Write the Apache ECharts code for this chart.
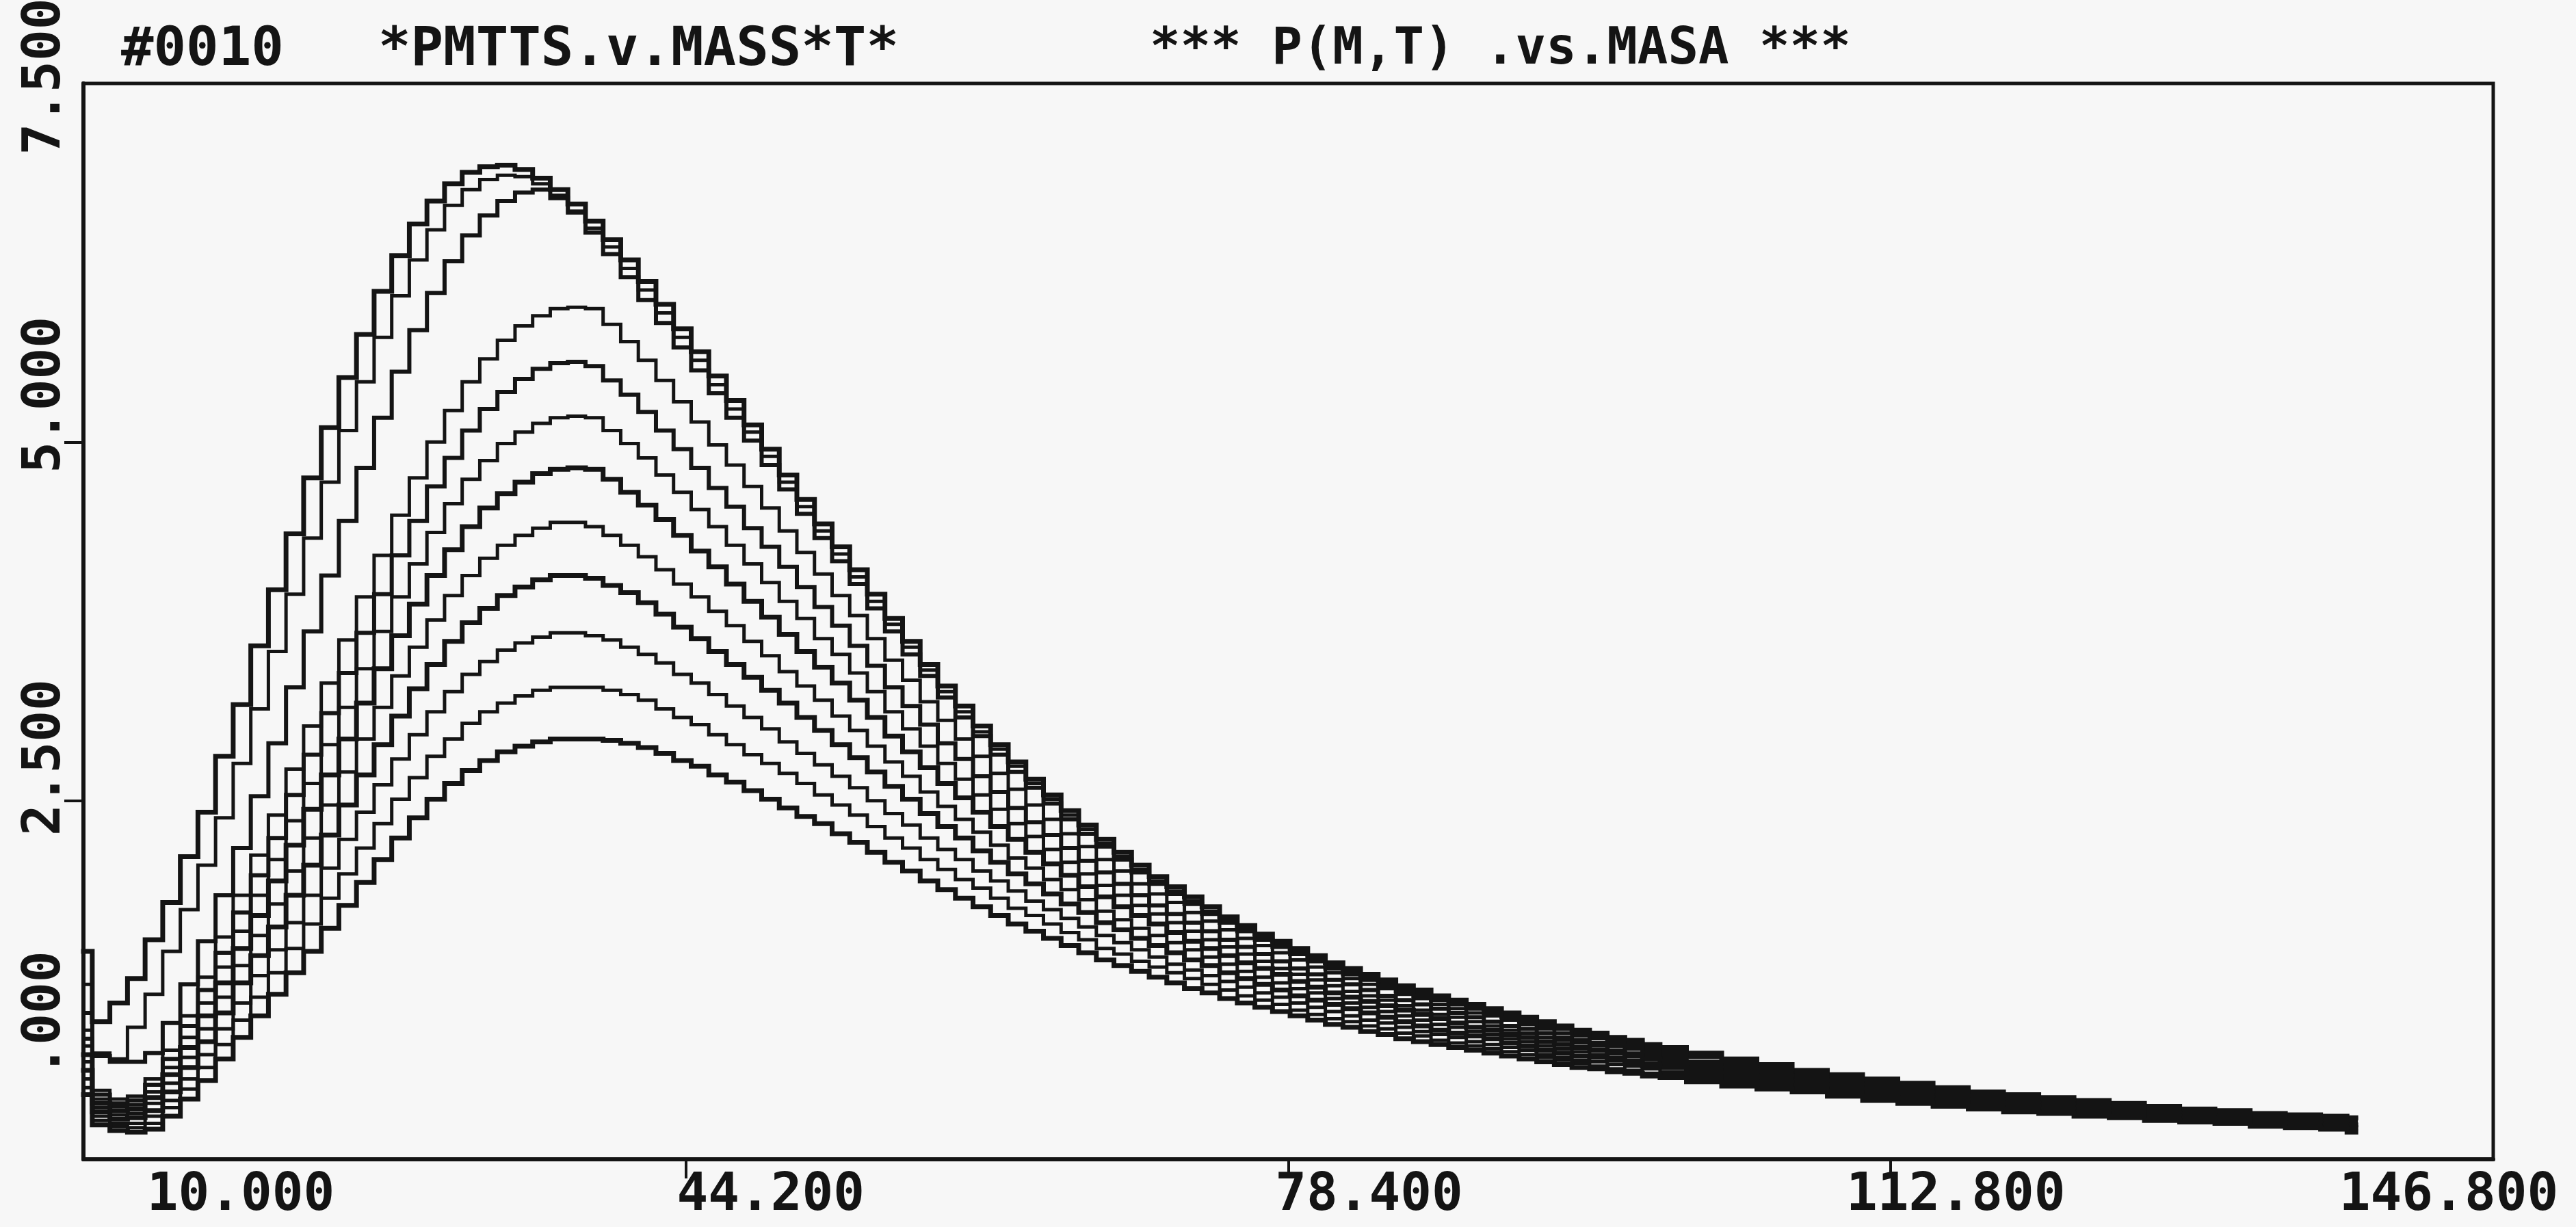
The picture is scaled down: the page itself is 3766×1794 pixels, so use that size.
<!DOCTYPE html>
<html>
<head>
<meta charset="utf-8">
<title>P(M,T) .vs.MASA</title>
<script src="https://cdn.jsdelivr.net/npm/echarts@6/dist/echarts.min.js"></script>
<style>
  html, body { margin: 0; padding: 0; background: #f7f7f7; }
  #chart { width: 3766px; height: 1794px; }
</style>
</head>
<body>
<div id="chart"></div>
<script>
// texts and ticks as printed on the plot
const runTag = "#0010";
const titleLeft = "*PMTTS.v.MASS*T*";
const titleRight = "*** P(M,T) .vs.MASA ***";
const xTickValues = [10, 44.2, 78.4, 112.6, 146.8];
const xTickLabels = ["10.000", "44.200", "78.400", "112.800", "146.800"];
const xTickMarks = [44.2, 78.4, 112.6];
const yTickValues = [0, 2.5, 5, 7.5];
const yTickLabels = [".000", "2.500", "5.000", "7.500"];
const yTickMarks = [2.5, 5];

// mass bins: unit bins up to 100, then every 2
const mass = [
  10, 11, 12, 13, 14, 15, 16, 17, 18, 19,
  20, 21, 22, 23, 24, 25, 26, 27, 28, 29,
  30, 31, 32, 33, 34, 35, 36, 37, 38, 39,
  40, 41, 42, 43, 44, 45, 46, 47, 48, 49,
  50, 51, 52, 53, 54, 55, 56, 57, 58, 59,
  60, 61, 62, 63, 64, 65, 66, 67, 68, 69,
  70, 71, 72, 73, 74, 75, 76, 77, 78, 79,
  80, 81, 82, 83, 84, 85, 86, 87, 88, 89,
  90, 91, 92, 93, 94, 95, 96, 97, 98, 99,
  100,
  102, 104, 106, 108, 110, 112, 114, 116, 118, 120,
  122, 124, 126, 128, 130, 132, 134, 136, 138,
  139
];

// P(M,T), one array per temperature, highest peak first
const p1 = [
  1.45, 0.96, 1.09, 1.26, 1.53, 1.79, 2.11, 2.42, 2.81, 3.17,
  3.58, 3.97, 4.36, 4.75, 5.10, 5.45, 5.75, 6.05, 6.30, 6.52,
  6.68, 6.80, 6.88, 6.92, 6.93, 6.90, 6.84, 6.76, 6.66, 6.54,
  6.41, 6.27, 6.12, 5.96, 5.79, 5.63, 5.46, 5.29, 5.12, 4.95,
  4.77, 4.60, 4.43, 4.27, 4.11, 3.94, 3.77, 3.61, 3.45, 3.30,
  3.16, 3.02, 2.89, 2.77, 2.65, 2.54, 2.43, 2.33, 2.23, 2.14,
  2.05, 1.97, 1.90, 1.83, 1.76, 1.69, 1.63, 1.57, 1.52, 1.47,
  1.42, 1.37, 1.33, 1.29, 1.25, 1.21, 1.18, 1.14, 1.11, 1.08,
  1.05, 1.02, 0.99, 0.96, 0.93, 0.90, 0.88, 0.85, 0.83, 0.80,
  0.78,
  0.74, 0.70, 0.66, 0.62, 0.59, 0.56, 0.53, 0.50, 0.47, 0.45,
  0.43, 0.41, 0.39, 0.37, 0.35, 0.34, 0.32, 0.31, 0.30,
  0.29
];
const p2 = [
  1.22, 0.74, 0.70, 0.92, 1.15, 1.45, 1.74, 2.05, 2.38, 2.76,
  3.14, 3.54, 3.94, 4.33, 4.72, 5.08, 5.42, 5.73, 6.02, 6.27,
  6.48, 6.65, 6.76, 6.83, 6.86, 6.85, 6.80, 6.72, 6.61, 6.49,
  6.36, 6.21, 6.06, 5.90, 5.73, 5.57, 5.40, 5.23, 5.07, 4.90,
  4.72, 4.55, 4.38, 4.22, 4.06, 3.89, 3.73, 3.57, 3.41, 3.26,
  3.12, 2.98, 2.86, 2.74, 2.62, 2.51, 2.40, 2.30, 2.20, 2.11,
  2.02, 1.94, 1.87, 1.80, 1.73, 1.67, 1.61, 1.55, 1.50, 1.45,
  1.40, 1.35, 1.31, 1.27, 1.23, 1.19, 1.16, 1.12, 1.09, 1.06,
  1.03, 1.00, 0.97, 0.94, 0.92, 0.89, 0.87, 0.84, 0.82, 0.79,
  0.77,
  0.73, 0.69, 0.65, 0.61, 0.58, 0.55, 0.52, 0.49, 0.47, 0.44,
  0.42, 0.40, 0.38, 0.37, 0.35, 0.33, 0.32, 0.31, 0.29,
  0.28
];
const p3 = [
  1.02, 0.72, 0.68, 0.68, 0.74, 0.95, 1.22, 1.52, 1.84, 2.17,
  2.53, 2.90, 3.29, 3.68, 4.07, 4.45, 4.82, 5.17, 5.49, 5.78,
  6.04, 6.26, 6.44, 6.58, 6.68, 6.74, 6.76, 6.70, 6.60, 6.46,
  6.31, 6.15, 5.99, 5.83, 5.66, 5.50, 5.34, 5.17, 5.01, 4.84,
  4.67, 4.50, 4.33, 4.17, 4.01, 3.84, 3.68, 3.52, 3.37, 3.22,
  3.08, 2.95, 2.82, 2.70, 2.59, 2.48, 2.37, 2.27, 2.18, 2.09,
  2.00, 1.92, 1.85, 1.78, 1.71, 1.65, 1.59, 1.53, 1.48, 1.43,
  1.38, 1.33, 1.29, 1.25, 1.21, 1.17, 1.14, 1.11, 1.08, 1.05,
  1.02, 0.99, 0.96, 0.93, 0.91, 0.88, 0.86, 0.83, 0.81, 0.78,
  0.76,
  0.72, 0.68, 0.64, 0.61, 0.57, 0.54, 0.51, 0.49, 0.46, 0.44,
  0.42, 0.40, 0.38, 0.36, 0.34, 0.33, 0.31, 0.30, 0.29,
  0.28
];
const p4 = [
  0.90, 0.48, 0.42, 0.44, 0.56, 0.76, 1.00, 1.27, 1.55, 1.84,
  2.12, 2.40, 2.72, 3.02, 3.32, 3.62, 3.92, 4.21, 4.49, 4.75,
  5.00, 5.22, 5.42, 5.58, 5.71, 5.81, 5.88, 5.93, 5.94, 5.93,
  5.82, 5.70, 5.57, 5.43, 5.28, 5.14, 4.98, 4.84, 4.69, 4.54,
  4.38, 4.23, 4.08, 3.93, 3.79, 3.63, 3.48, 3.34, 3.19, 3.06,
  2.93, 2.81, 2.69, 2.58, 2.47, 2.37, 2.27, 2.18, 2.09, 2.01,
  1.92, 1.85, 1.79, 1.72, 1.66, 1.60, 1.54, 1.49, 1.44, 1.39,
  1.34, 1.30, 1.26, 1.22, 1.19, 1.15, 1.12, 1.08, 1.05, 1.02,
  1.00, 0.97, 0.94, 0.91, 0.88, 0.86, 0.84, 0.81, 0.79, 0.76,
  0.74,
  0.71, 0.67, 0.63, 0.60, 0.57, 0.53, 0.51, 0.48, 0.45, 0.43,
  0.41, 0.39, 0.37, 0.35, 0.33, 0.32, 0.30, 0.29, 0.28,
  0.27
];
const p5 = [
  0.84, 0.45, 0.39, 0.41, 0.52, 0.70, 0.93, 1.18, 1.44, 1.72,
  1.98, 2.24, 2.54, 2.82, 3.11, 3.39, 3.67, 3.94, 4.21, 4.45,
  4.69, 4.89, 5.08, 5.23, 5.35, 5.44, 5.51, 5.55, 5.56, 5.53,
  5.43, 5.33, 5.21, 5.08, 4.95, 4.82, 4.68, 4.55, 4.40, 4.27,
  4.13, 3.99, 3.85, 3.72, 3.58, 3.44, 3.29, 3.16, 3.03, 2.90,
  2.79, 2.67, 2.56, 2.45, 2.35, 2.26, 2.17, 2.08, 2.00, 1.92,
  1.84, 1.77, 1.71, 1.65, 1.59, 1.53, 1.48, 1.43, 1.38, 1.33,
  1.29, 1.25, 1.22, 1.18, 1.14, 1.11, 1.08, 1.05, 1.02, 0.99,
  0.96, 0.93, 0.91, 0.88, 0.85, 0.83, 0.81, 0.79, 0.77, 0.74,
  0.72,
  0.68, 0.65, 0.61, 0.58, 0.55, 0.52, 0.49, 0.46, 0.44, 0.42,
  0.40, 0.38, 0.36, 0.34, 0.33, 0.32, 0.30, 0.29, 0.28,
  0.26
];
const p6 = [
  0.79, 0.42, 0.37, 0.38, 0.47, 0.64, 0.85, 1.09, 1.34, 1.59,
  1.84, 2.09, 2.36, 2.62, 2.89, 3.15, 3.42, 3.68, 3.92, 4.15,
  4.37, 4.57, 4.74, 4.87, 4.99, 5.07, 5.13, 5.17, 5.18, 5.17,
  5.08, 4.99, 4.89, 4.77, 4.65, 4.53, 4.41, 4.28, 4.15, 4.02,
  3.89, 3.77, 3.63, 3.52, 3.39, 3.26, 3.12, 3.00, 2.88, 2.76,
  2.65, 2.54, 2.44, 2.34, 2.25, 2.16, 2.07, 1.99, 1.91, 1.84,
  1.77, 1.71, 1.65, 1.59, 1.53, 1.48, 1.43, 1.38, 1.33, 1.29,
  1.25, 1.21, 1.17, 1.14, 1.11, 1.07, 1.04, 1.01, 0.99, 0.96,
  0.93, 0.90, 0.88, 0.85, 0.83, 0.81, 0.79, 0.76, 0.74, 0.72,
  0.70,
  0.66, 0.63, 0.60, 0.56, 0.53, 0.50, 0.48, 0.45, 0.42, 0.40,
  0.39, 0.37, 0.35, 0.33, 0.32, 0.31, 0.29, 0.28, 0.27,
  0.25
];
const p7 = [
  0.73, 0.39, 0.34, 0.35, 0.43, 0.59, 0.78, 1.00, 1.23, 1.47,
  1.70, 1.94, 2.19, 2.44, 2.68, 2.93, 3.18, 3.42, 3.65, 3.87,
  4.07, 4.25, 4.41, 4.54, 4.64, 4.72, 4.78, 4.81, 4.82, 4.81,
  4.74, 4.65, 4.56, 4.46, 4.35, 4.24, 4.13, 4.01, 3.89, 3.78,
  3.66, 3.54, 3.43, 3.32, 3.20, 3.08, 2.95, 2.84, 2.73, 2.62,
  2.52, 2.42, 2.32, 2.23, 2.14, 2.06, 1.98, 1.90, 1.83, 1.76,
  1.70, 1.64, 1.58, 1.52, 1.47, 1.42, 1.37, 1.33, 1.29, 1.24,
  1.20, 1.16, 1.13, 1.10, 1.07, 1.04, 1.01, 0.98, 0.95, 0.92,
  0.90, 0.87, 0.85, 0.82, 0.80, 0.78, 0.76, 0.74, 0.72, 0.70,
  0.68,
  0.64, 0.61, 0.58, 0.55, 0.52, 0.49, 0.46, 0.44, 0.41, 0.39,
  0.38, 0.36, 0.34, 0.32, 0.31, 0.30, 0.28, 0.27, 0.26,
  0.24
];
const p8 = [
  0.68, 0.36, 0.31, 0.32, 0.39, 0.53, 0.71, 0.91, 1.13, 1.35,
  1.56, 1.78, 2.01, 2.24, 2.47, 2.70, 2.93, 3.15, 3.37, 3.57,
  3.76, 3.93, 4.07, 4.19, 4.28, 4.35, 4.40, 4.44, 4.44, 4.41,
  4.35, 4.28, 4.20, 4.11, 4.01, 3.92, 3.82, 3.72, 3.61, 3.51,
  3.40, 3.30, 3.20, 3.09, 2.99, 2.88, 2.77, 2.67, 2.56, 2.46,
  2.37, 2.28, 2.19, 2.10, 2.03, 1.95, 1.88, 1.81, 1.73, 1.67,
  1.61, 1.56, 1.51, 1.46, 1.41, 1.36, 1.31, 1.27, 1.23, 1.19,
  1.16, 1.12, 1.09, 1.06, 1.03, 1.00, 0.97, 0.94, 0.92, 0.89,
  0.87, 0.84, 0.82, 0.79, 0.77, 0.75, 0.73, 0.71, 0.69, 0.67,
  0.66,
  0.62, 0.59, 0.56, 0.53, 0.50, 0.47, 0.45, 0.42, 0.40, 0.38,
  0.37, 0.35, 0.33, 0.31, 0.30, 0.29, 0.27, 0.26, 0.25,
  0.23
];
const p9 = [
  0.62, 0.33, 0.28, 0.29, 0.34, 0.47, 0.64, 0.82, 1.02, 1.23,
  1.42, 1.62, 1.84, 2.05, 2.26, 2.47, 2.68, 2.89, 3.09, 3.28,
  3.45, 3.61, 3.74, 3.84, 3.93, 3.99, 4.04, 4.07, 4.07, 4.05,
  4.00, 3.95, 3.88, 3.80, 3.71, 3.63, 3.54, 3.45, 3.36, 3.27,
  3.18, 3.08, 2.99, 2.89, 2.80, 2.70, 2.60, 2.51, 2.41, 2.32,
  2.24, 2.15, 2.07, 1.99, 1.92, 1.85, 1.78, 1.72, 1.65, 1.60,
  1.54, 1.49, 1.44, 1.39, 1.35, 1.30, 1.26, 1.22, 1.18, 1.14,
  1.11, 1.08, 1.05, 1.02, 0.99, 0.96, 0.93, 0.90, 0.88, 0.86,
  0.84, 0.81, 0.79, 0.76, 0.74, 0.72, 0.71, 0.69, 0.67, 0.65,
  0.64,
  0.60, 0.57, 0.54, 0.52, 0.49, 0.46, 0.43, 0.41, 0.39, 0.37,
  0.35, 0.33, 0.32, 0.30, 0.29, 0.28, 0.26, 0.25, 0.24,
  0.22
];
const p10 = [
  0.56, 0.30, 0.25, 0.25, 0.30, 0.41, 0.56, 0.73, 0.91, 1.09,
  1.28, 1.46, 1.65, 1.84, 2.03, 2.23, 2.42, 2.61, 2.79, 2.96,
  3.12, 3.26, 3.38, 3.47, 3.55, 3.60, 3.64, 3.67, 3.67, 3.65,
  3.62, 3.57, 3.52, 3.46, 3.38, 3.32, 3.24, 3.16, 3.08, 3.00,
  2.91, 2.83, 2.75, 2.67, 2.59, 2.50, 2.41, 2.33, 2.24, 2.16,
  2.09, 2.01, 1.94, 1.87, 1.80, 1.74, 1.68, 1.62, 1.56, 1.51,
  1.46, 1.41, 1.36, 1.32, 1.28, 1.24, 1.20, 1.16, 1.13, 1.09,
  1.06, 1.03, 1.00, 0.97, 0.95, 0.92, 0.89, 0.87, 0.85, 0.82,
  0.80, 0.78, 0.76, 0.73, 0.71, 0.69, 0.68, 0.66, 0.65, 0.63,
  0.61,
  0.58, 0.55, 0.52, 0.50, 0.47, 0.44, 0.42, 0.40, 0.37, 0.35,
  0.34, 0.32, 0.31, 0.29, 0.28, 0.27, 0.25, 0.24, 0.23,
  0.21
];
const p11 = [
  0.50, 0.27, 0.23, 0.22, 0.25, 0.36, 0.49, 0.64, 0.80, 0.97,
  1.13, 1.30, 1.47, 1.64, 1.82, 1.99, 2.17, 2.34, 2.51, 2.66,
  2.81, 2.93, 3.04, 3.12, 3.18, 3.23, 3.27, 3.29, 3.29, 3.29,
  3.27, 3.24, 3.20, 3.14, 3.08, 3.03, 2.96, 2.89, 2.82, 2.76,
  2.69, 2.62, 2.54, 2.47, 2.40, 2.32, 2.24, 2.17, 2.09, 2.02,
  1.95, 1.89, 1.82, 1.75, 1.70, 1.64, 1.58, 1.53, 1.47, 1.43,
  1.38, 1.34, 1.30, 1.26, 1.22, 1.18, 1.14, 1.11, 1.08, 1.04,
  1.01, 0.98, 0.96, 0.93, 0.91, 0.88, 0.86, 0.83, 0.81, 0.79,
  0.77, 0.75, 0.73, 0.71, 0.69, 0.67, 0.65, 0.63, 0.62, 0.60,
  0.59,
  0.56, 0.53, 0.51, 0.49, 0.46, 0.43, 0.40, 0.38, 0.36, 0.34,
  0.33, 0.31, 0.30, 0.28, 0.27, 0.26, 0.24, 0.23, 0.22,
  0.20
];
const p12 = [
  0.45, 0.24, 0.20, 0.19, 0.21, 0.30, 0.42, 0.55, 0.70, 0.85,
  1.00, 1.15, 1.30, 1.45, 1.61, 1.77, 1.93, 2.09, 2.24, 2.38,
  2.51, 2.62, 2.71, 2.78, 2.84, 2.88, 2.91, 2.93, 2.93, 2.93,
  2.92, 2.90, 2.87, 2.83, 2.78, 2.74, 2.68, 2.63, 2.57, 2.51,
  2.45, 2.39, 2.34, 2.27, 2.21, 2.14, 2.07, 2.01, 1.94, 1.88,
  1.82, 1.76, 1.70, 1.64, 1.59, 1.54, 1.49, 1.44, 1.39, 1.35,
  1.31, 1.27, 1.23, 1.19, 1.16, 1.12, 1.09, 1.06, 1.03, 1.00,
  0.97, 0.94, 0.92, 0.89, 0.87, 0.84, 0.82, 0.80, 0.78, 0.76,
  0.74, 0.72, 0.70, 0.68, 0.66, 0.64, 0.63, 0.61, 0.60, 0.58,
  0.57,
  0.54, 0.51, 0.49, 0.47, 0.44, 0.41, 0.39, 0.37, 0.35, 0.33,
  0.32, 0.30, 0.29, 0.27, 0.26, 0.25, 0.23, 0.22, 0.21,
  0.19
];

const curves = [p1, p2, p3, p4, p5, p6, p7, p8, p9, p10, p11, p12];
// pen weights differ from curve to curve on the plot
const penWidth = [7, 5, 6, 5, 6, 5, 7, 5, 7, 5, 5, 7];

const ink = "#141414";
const font = { fontFamily: "DejaVu Sans Mono", fontWeight: "bold", fontSize: 76, color: ink };

const chart = echarts.init(document.getElementById("chart"));

const option = {
  backgroundColor: "#f7f7f7",
  animation: false,
  title: [
    { text: runTag, left: 172, top: 30, textStyle: { ...font, fontSize: 79 } },
    { text: titleLeft, left: 548, top: 30, textStyle: { ...font, fontSize: 79 } },
    { text: titleRight, left: 1676, top: 32, textStyle: { ...font, fontSize: 74 } }
  ],
  grid: {
    left: 122, right: 121, top: 122, bottom: 99,
    containLabel: false,
    outerBoundsMode: "none",
    show: true, borderColor: ink, borderWidth: 5, backgroundColor: "transparent"
  },
  xAxis: {
    type: "value",
    min: 10,
    max: 146.8,
    axisLine: { onZero: false, lineStyle: { color: ink, width: 6 } },
    axisTick: { customValues: xTickMarks, length: 28, lineStyle: { color: ink, width: 4 } },
    splitLine: { show: false },
    axisLabel: {
      customValues: xTickValues,
      margin: 16,
      ...font,
      formatter: (v) => {
        const i = xTickValues.indexOf(v);
        return "{x" + i + "|" + xTickLabels[i] + "}";
      },
      rich: {
        x0: { ...font, padding: [0, 0, 0, 460] },
        x1: { ...font, padding: [0, 0, 0, 248] },
        x2: { ...font, padding: [0, 0, 0, 236] },
        x3: { ...font, padding: [0, 0, 0, 190] },
        x4: { ...font, padding: [0, 130, 0, 0] }
      }
    }
  },
  yAxis: {
    type: "value",
    min: 0,
    max: 7.5,
    axisLine: { onZero: false, lineStyle: { color: ink, width: 6 } },
    axisTick: { customValues: yTickMarks, length: 28, lineStyle: { color: ink, width: 4 } },
    splitLine: { show: false },
    axisLabel: {
      customValues: yTickValues,
      rotate: 90,
      margin: 17,
      ...font,
      formatter: (v) => {
        const i = yTickValues.indexOf(v);
        return "{y" + i + "|" + yTickLabels[i] + "}";
      },
      rich: {
        y0: { ...font, padding: [0, 0, 0, 426] },
        y1: { ...font, padding: [0, 0, 0, 126] },
        y2: { ...font, padding: [0, 0, 0, 138] },
        y3: { ...font, padding: [0, 0, 0, 20] }
      }
    }
  },
  series: curves.map((vals, i) => ({
    type: "line",
    step: "middle",
    symbol: "none",
    silent: true,
    data: mass.map((m, j) => [m, vals[j]]),
    lineStyle: { color: ink, width: penWidth[i], cap: "square", join: "miter" }
  }))
};

chart.setOption(option);
</script>
</body>
</html>
